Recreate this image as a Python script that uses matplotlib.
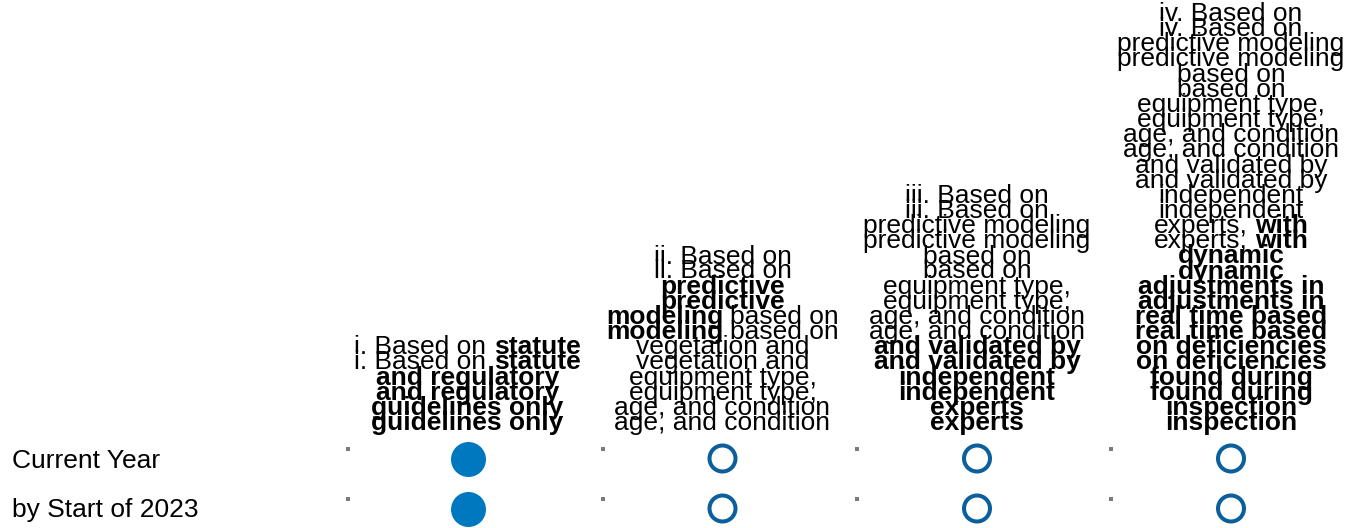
import matplotlib
matplotlib.use('Agg')
import matplotlib.pyplot as plt

plt.rcParams['font.family'] = ['Liberation Sans', 'DejaVu Sans']

# rows / columns of the grid
row_labels = ['Current Year', 'by Start of 2023']

# header text, one string per line, *...* marks bold parts
headers = [
    ['i. Based on *statute*',
     '*and regulatory*',
     '*guidelines only*'],
    ['ii. Based on',
     '*predictive*',
     '*modeling* based on',
     'vegetation and',
     'equipment type,',
     'age, and condition'],
    ['iii. Based on',
     'predictive modeling',
     'based on',
     'equipment type,',
     'age, and condition',
     '*and validated by*',
     '*independent*',
     '*experts*'],
    ['iv. Based on',
     'predictive modeling',
     'based on',
     'equipment type,',
     'age, and condition',
     'and validated by',
     'independent',
     'experts, *with*',
     '*dynamic*',
     '*adjustments in*',
     '*real time based*',
     '*on deficiencies*',
     '*found during*',
     '*inspection*'],
]

# 1 = selected (filled dot), 0 = not selected (ring)
current_year = [1, 0, 0, 0]
start_2023 = [1, 0, 0, 0]
selection = [current_year, start_2023]

W, H = 1351, 528
fig = plt.figure(figsize=(W / 100, H / 100), dpi=100)
ax = fig.add_axes([0, 0, 1, 1])
ax.set_xlim(0, W)
ax.set_ylim(H, 0)
ax.axis('off')

col_x = [467.5, 722.5, 977, 1231]
row_y = [458.5, 508.5]
fs = 19
pitch = 30.3
dup = 15
last_base = 430

renderer = fig.canvas.get_renderer()


def width(s, bold):
    t = ax.text(0, 0, s, fontsize=fs, fontweight='bold' if bold else 'normal')
    w = t.get_window_extent(renderer).width
    t.remove()
    return w


sp = {False: width('a a', False) - width('aa', False),
      True: width('a a', True) - width('aa', True)}


def draw_line(line, cx, y):
    parts = line.split('*')
    segs = [(p, i % 2 == 1) for i, p in enumerate(parts) if p]
    ws = []
    for s, b in segs:
        core = s.strip()
        n_lead = len(s) - len(s.lstrip())
        n_trail = len(s) - len(s.rstrip())
        ws.append((n_lead * sp[b], width(core, b), n_trail * sp[b], core, b))
    total = sum(a + c + d for a, c, d, _, _ in ws)
    x = cx - total / 2
    for lead, w, trail, core, b in ws:
        x += lead
        ax.text(x, y, core, fontsize=fs, fontweight='bold' if b else 'normal',
                ha='left', va='baseline', color='black')
        x += w + trail


for cx, lines in zip(col_x, headers):
    n = len(lines)
    for i, line in enumerate(lines):
        base = last_base - dup - (n - 1 - i) * pitch
        draw_line(line, cx, base)
        draw_line(line, cx, base + dup)

for ry, lab, sel in zip(row_y, row_labels, selection):
    ax.text(12, ry + 9, lab, fontsize=fs, ha='left', va='baseline', color='black')
    for cx, v in zip(col_x, sel):
        ax.scatter([cx - 120], [ry - 10], marker='s', s=5, color='#7a7a7a', linewidths=0)
        if v:
            ax.scatter([cx], [ry], s=635, color='#0078c0', linewidths=0)
        else:
            ax.scatter([cx], [ry], s=350, facecolors='none', edgecolors='#0b5f9c',
                       linewidths=2.9)

fig.savefig('out.png', dpi=100)
